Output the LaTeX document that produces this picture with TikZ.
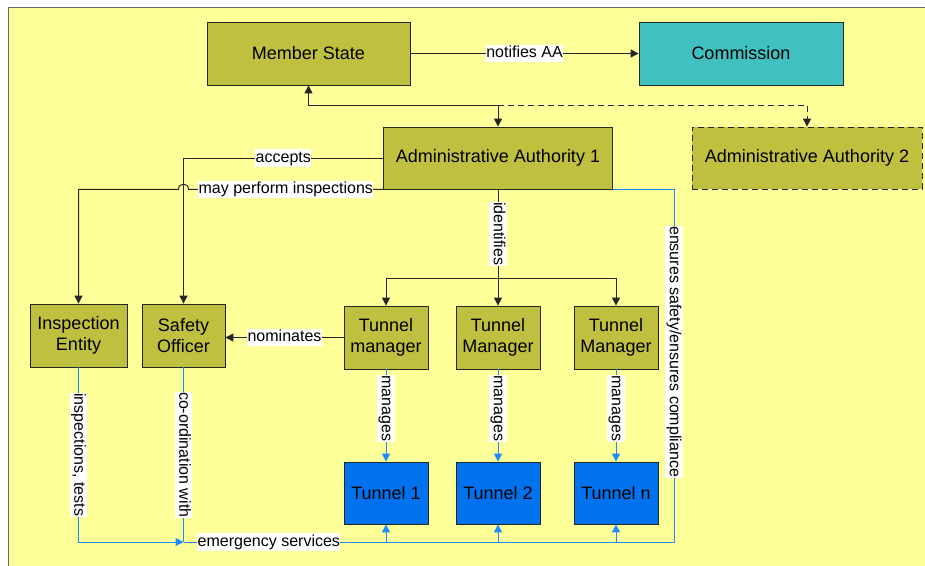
\documentclass[tikz,border=0pt]{standalone}
\usepackage{fontspec}
\setmainfont{Liberation Sans}
\usepackage{tikz}
\usetikzlibrary{calc, positioning, arrows.meta}
\definecolor{xolive}{HTML}{C0C040}
\definecolor{xteal}{HTML}{40C0C0}
\definecolor{xblue}{HTML}{0072EE}
\definecolor{xline}{HTML}{1E8CFF}
\definecolor{xyellow}{HTML}{FFFF99}
\tikzset{
  box/.style = {draw=black!85, line width=0.8pt, fill=#1, inner sep=0pt, align=center, font=\fontsize{18}{21}\selectfont},
  wire/.style = {draw=#1, line width=1pt}, wire/.default = {black!85},
  flow/.style = {wire=#1, -{Triangle[length=8pt, width=8pt]}}, flow/.default = {black!85},
  tag/.style = {fill=white, inner xsep=0.5pt, inner ysep=1pt, text height=12pt, text depth=3.5pt, font=\fontsize{16}{18}\selectfont},
  tagv/.style = {tag, rotate=-90},
}

\begin{document}
\begin{tikzpicture}[x=1pt, y=-1pt]
	\useasboundingbox (0,0) rectangle (925,565);
	\draw[draw=black!60, fill=xyellow] (8,7) rectangle (940,580);
	\node[box=xolive, minimum width=203, minimum height=63] (ms) at (308.5,53.5) {Member State};
	\node[box=xteal, minimum width=204, minimum height=63] (com) at (741,53.5) {Commission};
	\node[box=xolive, minimum width=229, minimum height=62] (aa1) at (498,158) {Administrative Authority 1};
	\node[box=xolive, dash pattern=on 6pt off 4pt, minimum width=230, minimum height=62] (aa2) at (807,158) {Administrative Authority 2};
	\node[box=xolive, minimum width=97, minimum height=63] (ie) at (78.5,335.5) {Inspection\\Entity};
	\node[box=xolive, minimum width=83, minimum height=63] (so) at (183.5,335.5) {Safety\\Officer};
	\node[box=xolive, minimum width=84, minimum height=63] (tm1) at (386,337.5) {Tunnel\\manager};
	\node[box=xolive, minimum width=84, minimum height=63] (tm2) at (498,337.5) {Tunnel\\Manager};
	\node[box=xolive, minimum width=84, minimum height=63] (tm3) at (616,337.5) {Tunnel\\Manager};
	\node[box=xblue, minimum width=84, minimum height=62] (tun1) at (386,493) {Tunnel 1};
	\node[box=xblue, minimum width=84, minimum height=62] (tun2) at (498,493) {Tunnel 2};
	\node[box=xblue, minimum width=84, minimum height=62] (tun3) at (616,493) {Tunnel n};

	\draw[flow] (ms.east) -- node[tag] {notifies AA} (com.west);
	\coordinate (split) at (aa1.north |- 0,105);
	\draw[flow] (split) -| (ms.south);
	\draw[flow] (split) -- (aa1.north);
	\draw[flow, dash pattern=on 6pt off 4pt] (split) -| (aa2.north);
	\draw[flow] (aa1.west) -| node[tag, pos=0.25] {accepts} (so.north);
	\coordinate (hop) at (so.north |- aa1.south west);
	\draw[flow] (aa1.south west) -- node[tag] {may perform inspections} ($(hop)+(5,0)$) .. controls ($(hop)+(5,-7)$) and ($(hop)+(-5,-7)$) .. ($(hop)+(-5,0)$) -| (ie.north);
	\coordinate (fork) at (aa1.south |- 0,278);
	\draw[wire] (aa1.south) -- node[tagv] {identifies} (fork);
	\draw[flow] (fork) -| (tm1.north);
	\draw[flow] (fork) -- (tm2.north);
	\draw[flow] (fork) -| (tm3.north);
	\draw[flow] (tm1.west) -- node[tag] {nominates} (tm1.west -| so.east);

	\coordinate (hub) at (so.south |- 0,542);
	\coordinate (corner) at (674,542);
	\draw[flow=xline] (ie.south) |- node[tagv, pos=0.25] {inspections, tests} (hub);
	\draw[wire=xline] (so.south) -- node[tagv] {co-ordination with} (hub);
	\draw[wire=xline] (aa1.south east) -| node[tagv, pos=0.73] {ensures safety/ensures compliance} (corner) -- node[tag, pos=0.826] {emergency services} (hub);
	\foreach \i in {1,2,3} {
		\draw[flow=xline] (tm\i.south) -- node[tagv, pos=0.42] {manages} (tun\i.north);
		\draw[flow=xline] (tun\i.south |- hub) -- (tun\i.south);
	}
\end{tikzpicture}
\end{document}
